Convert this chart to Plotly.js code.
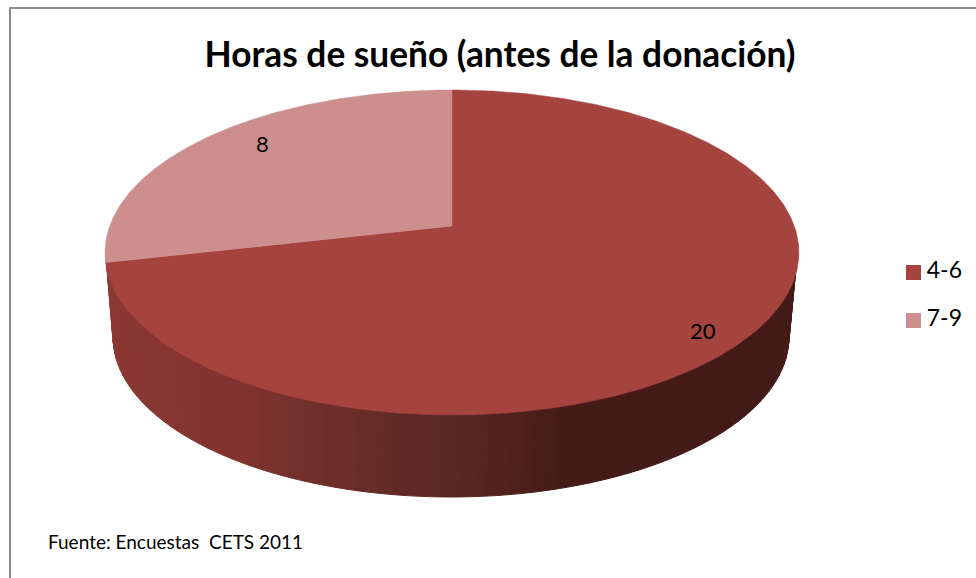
<!DOCTYPE html>
<html>
<head>
<meta charset="utf-8">
<script src="https://cdn.plot.ly/plotly-3.0.1.min.js"></script>
<style>html,body{margin:0;padding:0;background:#fff;overflow:hidden}#chart{width:976px;height:578px}</style>
</head>
<body>
<div id="chart"></div>
<script>
const categories = ['4-6', '7-9'];
const values = [20, 8];
const sliceColors = ['#A5433F', '#CD8F8D'];
const titleText = 'Horas de sueño (antes de la donación)';
const sourceText = 'Fuente: Encuestas  CETS 2011';
const wallStopX = [113, 233, 300, 400, 473, 560, 790];
const wallStopRGB = [[139,56,51],[130,51,47],[114,48,44],[98,42,38],[90,37,33],[69,27,24],[67,26,23]];

const fontFamily = 'Lato, Carlito, "Open Sans", sans-serif';

// Perspective view of the pie disc
const apex = {x: 452, y: 226}, A = 342.3, B = 158.2, K = 0.163;
function project(deg) {
  const r = deg * Math.PI / 180, u = Math.sin(r), v = Math.cos(r), d = 1 + K * v;
  return [apex.x + A * u / d, apex.y - B * v / d];
}
const topEll = {cx: 451.5, cy: 254, a: 345.5, b: 160};
const lowEll = {cx: 451, cy: 337, a: 338, b: 160};
function ell(e, t) { return [e.cx + e.a * Math.cos(t), e.cy + e.b * Math.sin(t)]; }
function wallRGB(x) {
  let i = 0;
  while (i < wallStopX.length - 2 && x > wallStopX[i + 1]) i++;
  const f = Math.max(0, Math.min(1, (x - wallStopX[i]) / (wallStopX[i + 1] - wallStopX[i])));
  const c = wallStopRGB[i].map((s, k) => Math.round(s + (wallStopRGB[i + 1][k] - s) * f));
  return 'rgb(' + c.join(',') + ')';
}

const traces = [];
// Side wall: front half of the disc, shaded in strips
const strips = 90;
for (let i = 0; i < strips; i++) {
  const t0 = Math.PI * (1 - i / strips), t1 = Math.PI * (1 - (i + 1) / strips);
  const p = [ell(topEll, t0), ell(topEll, t1), ell(lowEll, t1), ell(lowEll, t0)];
  const col = wallRGB((p[2][0] + p[3][0]) / 2);
  traces.push({
    type: 'scatter', mode: 'lines', fill: 'toself', fillcolor: col,
    line: {color: col, width: 1},
    x: p.map(q => q[0]).concat(p[0][0]), y: p.map(q => q[1]).concat(p[0][1]),
    hoverinfo: 'skip', showlegend: false
  });
}
// Top face slices, clockwise from 12 o'clock
const total = values.reduce((a, b) => a + b, 0);
let start = 0;
values.forEach((v, i) => {
  const sweep = v / total * 360, xs = [apex.x], ys = [apex.y];
  for (let d = 0; d <= 360; d++) {
    const ang = start + sweep * d / 360, q = project(ang);
    xs.push(q[0]); ys.push(q[1]);
  }
  xs.push(apex.x); ys.push(apex.y);
  traces.push({
    type: 'scatter', mode: 'lines', fill: 'toself', fillcolor: sliceColors[i],
    line: {color: sliceColors[i], width: 0.5}, x: xs, y: ys,
    name: categories[i], text: categories[i] + ': ' + v, hoverinfo: 'text', showlegend: false
  });
  start += sweep;
});
// Legend key
const legendX = [913.5, 913.5], legendY = [272.5, 320.5];
traces.push({
  type: 'scatter', mode: 'markers+text', x: legendX, y: legendY,
  marker: {symbol: 'square', size: 15, color: sliceColors},
  text: categories.map(c => '\u2009' + c), textposition: 'middle right',
  textfont: {family: fontFamily, size: 23, color: '#000'},
  hoverinfo: 'skip', showlegend: false
});

const labelPos = [[262, 143], [703, 330]];
const annotations = values.map((v, i) => ({
  x: labelPos[1 - i][0], y: labelPos[1 - i][1], xref: 'x', yref: 'y', text: String(v),
  showarrow: false, font: {family: fontFamily, size: 22, color: '#000'}
}));
annotations.push({
  x: 45.5, y: 541, xref: 'x', yref: 'y', text: sourceText, xanchor: 'left',
  showarrow: false, font: {family: fontFamily, size: 19, color: '#000'}
});

const layout = {
  width: 976, height: 578, margin: {l: 0, r: 0, t: 0, b: 0},
  paper_bgcolor: '#fff', plot_bgcolor: '#fff', showlegend: false,
  title: {text: titleText, x: 500 / 976, xref: 'paper', xanchor: 'center', y: 1 - 55 / 578, yref: 'paper', yanchor: 'middle',
    font: {family: fontFamily, size: 35.3, color: '#000', weight: 700}},
  xaxis: {range: [0, 976], visible: false, fixedrange: true},
  yaxis: {range: [578, 0], visible: false, fixedrange: true},
  shapes: [
    {type: 'line', x0: 9.5, x1: 976, y0: 8, y1: 8, line: {color: '#8C8C8C', width: 2}},
    {type: 'line', x0: 10, x1: 10, y0: 7.5, y1: 578, line: {color: '#8C8C8C', width: 2}}
  ],
  annotations: annotations
};
Plotly.newPlot('chart', traces, layout, {displayModeBar: false, responsive: false});
</script>
</body>
</html>
